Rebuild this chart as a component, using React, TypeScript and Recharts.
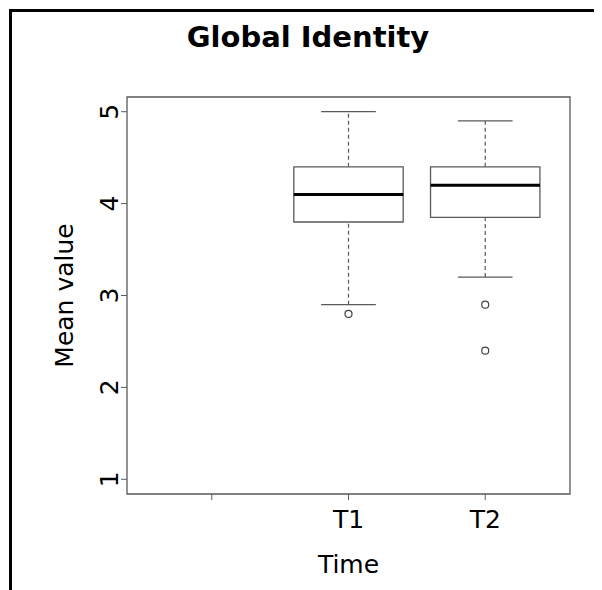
import React from 'react';
import {
  ComposedChart,
  XAxis,
  YAxis,
  Scatter,
  ReferenceArea,
  ReferenceLine,
  Label,
} from 'recharts';

// box plot stats per time point (first slot is the empty category)
const categories = ['', 'T1', 'T2'];
const lowerWhisker = [null, 2.9, 3.2];
const q1 = [null, 3.8, 3.85];
const median = [null, 4.1, 4.2];
const q3 = [null, 4.4, 4.4];
const upperWhisker = [null, 5.0, 4.9];
const outliers: number[][] = [[], [2.8], [2.9, 2.4]];
const yTicks = [1, 2, 3, 4, 5];

const FONT = '"DejaVu Sans", Verdana, sans-serif';
const GREY = '#5a5a5a';
const BOX_HALF = 0.4;
const CAP_HALF = 0.2;

const outlierPoints = outliers.flatMap((vals, i) =>
  vals.map(v => ({ x: i + 1, y: v }))
);

const YTick = (props: any) => {
  const { x, y, payload } = props;
  return (
    <text
      x={x - 1}
      y={y}
      transform={`rotate(-90, ${x - 1}, ${y})`}
      textAnchor="middle"
      fontSize={25}
      fontFamily={FONT}
      fill="#000"
    >
      {payload.value}
    </text>
  );
};

const XTick = (props: any) => {
  const { x, y, payload } = props;
  return (
    <text x={x} y={y + 26} textAnchor="middle" fontSize={25} fontFamily={FONT} fill="#000">
      {categories[payload.value - 1]}
    </text>
  );
};

const OpenCircle = (props: any) => {
  const { cx, cy } = props;
  return <circle cx={cx} cy={cy} r={3.5} fill="none" stroke="#444" strokeWidth={1.2} />;
};

export default function App() {
  return (
    <div style={{ position: 'relative', width: 594, height: 582 }}>
      <div style={{ position: 'absolute', left: 1, top: 1, width: 593, height: 3, background: '#000' }} />
      <div style={{ position: 'absolute', left: 1, top: 1, width: 3, height: 581, background: '#000' }} />
      <div
        style={{
          position: 'absolute',
          left: 0,
          top: 15,
          width: 600,
          textAlign: 'center',
          fontFamily: FONT,
          fontWeight: 'bold',
          fontSize: 29,
          lineHeight: '29px',
          color: '#000',
        }}
      >
        Global Identity
      </div>
      <ComposedChart
        width={594}
        height={582}
        margin={{ top: 89, right: 32, bottom: 36, left: 59 }}
      >
        <XAxis
          type="number"
          dataKey="x"
          domain={[0.38, 3.62]}
          ticks={[1, 2, 3]}
          allowDataOverflow
          axisLine={false}
          tickLine={{ stroke: GREY }}
          tickSize={6}
          height={60}
          tick={<XTick />}
        >
          <Label
            content={({ viewBox }: any) => (
              <text
                x={viewBox.x + viewBox.width / 2}
                y={565}
                textAnchor="middle"
                fontSize={25}
                fontFamily={FONT}
                fill="#000"
              >
                Time
              </text>
            )}
          />
        </XAxis>
        <YAxis
          type="number"
          dataKey="y"
          domain={[0.84, 5.16]}
          ticks={yTicks}
          allowDataOverflow
          axisLine={false}
          tickLine={{ stroke: GREY }}
          tickSize={6}
          width={60}
          tick={<YTick />}
        >
          <Label
            content={({ viewBox }: any) => {
              const cy = viewBox.y + viewBox.height / 2;
              return (
                <text
                  x={65}
                  y={cy}
                  transform={`rotate(-90, 65, ${cy})`}
                  textAnchor="middle"
                  fontSize={25}
                  fontFamily={FONT}
                  fill="#000"
                >
                  Mean value
                </text>
              );
            }}
          />
        </YAxis>

        {/* plot frame */}
        <ReferenceArea
          x1={0.38}
          x2={3.62}
          y1={0.84}
          y2={5.16}
          fill="none"
          stroke={GREY}
          strokeWidth={1.3}
          fillOpacity={0}
        />

        {categories.map((c, i) => {
          if (median[i] == null) return null;
          const pos = i + 1;
          return (
            <React.Fragment key={c}>
              <ReferenceLine
                segment={[{ x: pos, y: q3[i] as number }, { x: pos, y: upperWhisker[i] as number }]}
                stroke={GREY}
                strokeWidth={1.2}
                strokeDasharray="4 3"
              />
              <ReferenceLine
                segment={[{ x: pos, y: lowerWhisker[i] as number }, { x: pos, y: q1[i] as number }]}
                stroke={GREY}
                strokeWidth={1.2}
                strokeDasharray="4 3"
              />
              <ReferenceLine
                segment={[{ x: pos - CAP_HALF, y: upperWhisker[i] as number }, { x: pos + CAP_HALF, y: upperWhisker[i] as number }]}
                stroke={GREY}
                strokeWidth={1.3}
              />
              <ReferenceLine
                segment={[{ x: pos - CAP_HALF, y: lowerWhisker[i] as number }, { x: pos + CAP_HALF, y: lowerWhisker[i] as number }]}
                stroke={GREY}
                strokeWidth={1.3}
              />
              <ReferenceArea
                x1={pos - BOX_HALF}
                x2={pos + BOX_HALF}
                y1={q1[i] as number}
                y2={q3[i] as number}
                fill="#fff"
                fillOpacity={1}
                stroke={GREY}
                strokeWidth={1.3}
              />
              <ReferenceLine
                segment={[{ x: pos - BOX_HALF, y: median[i] as number }, { x: pos + BOX_HALF, y: median[i] as number }]}
                stroke="#000"
                strokeWidth={3}
              />
            </React.Fragment>
          );
        })}

        <Scatter
          data={outlierPoints}
          dataKey="y"
          shape={<OpenCircle />}
          isAnimationActive={false}
        />
      </ComposedChart>
    </div>
  );
}
